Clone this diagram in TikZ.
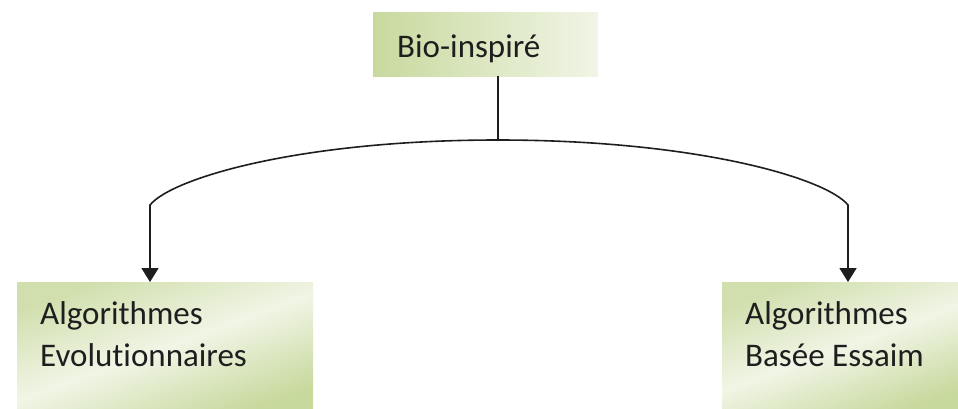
\documentclass[tikz,border=0pt]{standalone}
\usepackage{fontspec}
\setmainfont{Carlito}[Ligatures=NoCommon]
\usetikzlibrary{arrows.meta,calc}
\definecolor{boxgreen}{HTML}{C8D99E}
\definecolor{boxlight}{HTML}{F1F5E6}
\definecolor{inkc}{HTML}{1E1E1E}
\begin{document}
\begin{tikzpicture}[x=1pt,y=-1pt,
  greenbox/.style={draw=none,rectangle,inner sep=0pt,anchor=north west},
  lbl/.style={anchor=base west,inner sep=0pt,text=inkc,font=\fontsize{33}{42}\selectfont},
  conn/.style={line width=1.6pt,draw=inkc},
  tip/.style={-{Triangle[length=14pt,width=17pt]}}]
\useasboundingbox (0,0) rectangle (958,408);
\clip (0,0) rectangle (958,408);
% boxes
\node[greenbox,minimum width=225pt,minimum height=64pt,
      left color=boxgreen,right color=boxlight] (top) at (373,12) {};
\node[greenbox,minimum width=296pt,minimum height=130pt,
      top color=boxgreen!85!white,bottom color=boxgreen,middle color=boxlight,shading angle=20] (left) at (17,282) {};
\node[greenbox,minimum width=240pt,minimum height=130pt,
      top color=boxgreen!85!white,bottom color=boxgreen,middle color=boxlight,shading angle=20] (right) at (722,282) {};
% texts
\node[lbl] (t0) at (397,57) {Bio-inspiré};
\node[lbl] (l1) at (40,324) {Algorithmes};
\node[lbl] (l2) at (40,366) {Evolutionnaires};
\node[lbl] (r1) at (745,324) {Algorithmes};
\node[lbl] (r2) at (745,366) {Basée Essaim};
% connectors
\coordinate (j) at (498,140);
\coordinate (bl) at (150,205);
\coordinate (br) at (848,205);
\draw[conn] (top.south -| j) -- (j);
\draw[conn,tip] (j) .. controls (300,140) and (172,178) .. (bl) -- (bl |- left.north);
\draw[conn,tip] (j) .. controls (696,140) and (826,178) .. (br) -- (br |- right.north);
\end{tikzpicture}
\end{document}
